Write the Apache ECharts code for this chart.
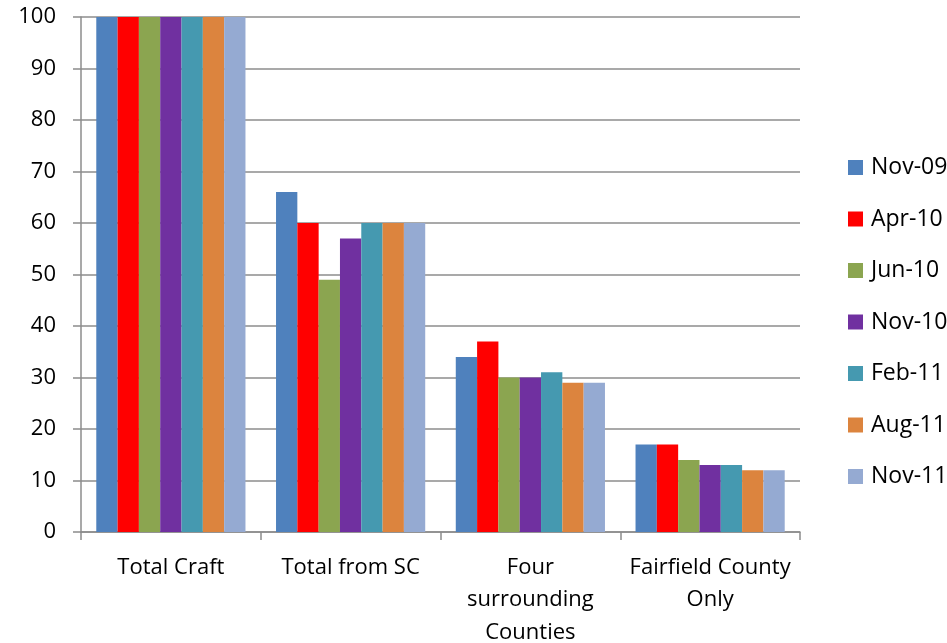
<!DOCTYPE html>
<html><head><meta charset="utf-8">
<script src="https://cdn.jsdelivr.net/npm/echarts@6/dist/echarts.min.js"></script>
<style>html,body{margin:0;padding:0;background:#fff}#c{width:947px;height:643px}</style>
</head><body><div id="c"></div>
<script>
const categories = ['Total Craft', 'Total from SC', 'Four\nsurrounding\nCounties', 'Fairfield County\nOnly'];
const seriesNames = ['Nov-09', 'Apr-10', 'Jun-10', 'Nov-10', 'Feb-11', 'Aug-11', 'Nov-11'];
const nov09 = [100, 66, 34, 17];
const apr10 = [100, 60, 37, 17];
const jun10 = [100, 49, 30, 14];
const nov10 = [100, 57, 30, 13];
const feb11 = [100, 60, 31, 13];
const aug11 = [100, 60, 29, 12];
const nov11 = [100, 60, 29, 12];
const yTicks = [0, 10, 20, 30, 40, 50, 60, 70, 80, 90, 100];

const seriesData = [nov09, apr10, jun10, nov10, feb11, aug11, nov11];
const colors = ['#4F81BD', '#FF0000', '#8BA550', '#7030A0', '#4599B0', '#DC843E', '#95AAD2'];
const font = 'Open Sans';
const chart = echarts.init(document.getElementById('c'));
chart.setOption({
  animation: false,
  color: colors,
  grid: { left: 81, right: 147, top: 17, bottom: 111, containLabel: false, outerBoundsMode: 'none' },
  legend: {
    orient: 'vertical', left: 843, top: 151, itemWidth: 15, itemHeight: 15, itemGap: 28.5,
    icon: 'rect',
    textStyle: { fontFamily: font, fontSize: 23, lineHeight: 23, color: '#000', padding: [0, 0, 0, 3] },
    data: seriesNames
  },
  xAxis: {
    type: 'category', data: categories,
    axisLine: { lineStyle: { color: '#8c8c8c', width: 1.5 } },
    axisTick: { show: true, length: 8, alignWithLabel: false, lineStyle: { color: '#8c8c8c', width: 1.5 } },
    axisLabel: { fontFamily: font, fontSize: 22, color: '#000', margin: 19, lineHeight: 32.5, interval: 0 }
  },
  yAxis: {
    type: 'value', min: yTicks[0], max: yTicks[yTicks.length - 1], interval: 10,
    axisLine: { show: true, lineStyle: { color: '#8c8c8c', width: 1.5 } },
    axisTick: { show: true, length: 8, lineStyle: { color: '#8c8c8c', width: 1.5 } },
    splitLine: { lineStyle: { color: '#8c8c8c', width: 1.5 } },
    axisLabel: { fontFamily: font, fontSize: 22, color: '#000', margin: 25 }
  },
  series: seriesNames.map((n, i) => ({
    name: n, type: 'bar', data: seriesData[i],
    barGap: '0%', barCategoryGap: '17%'
  }))
});
</script></body></html>
